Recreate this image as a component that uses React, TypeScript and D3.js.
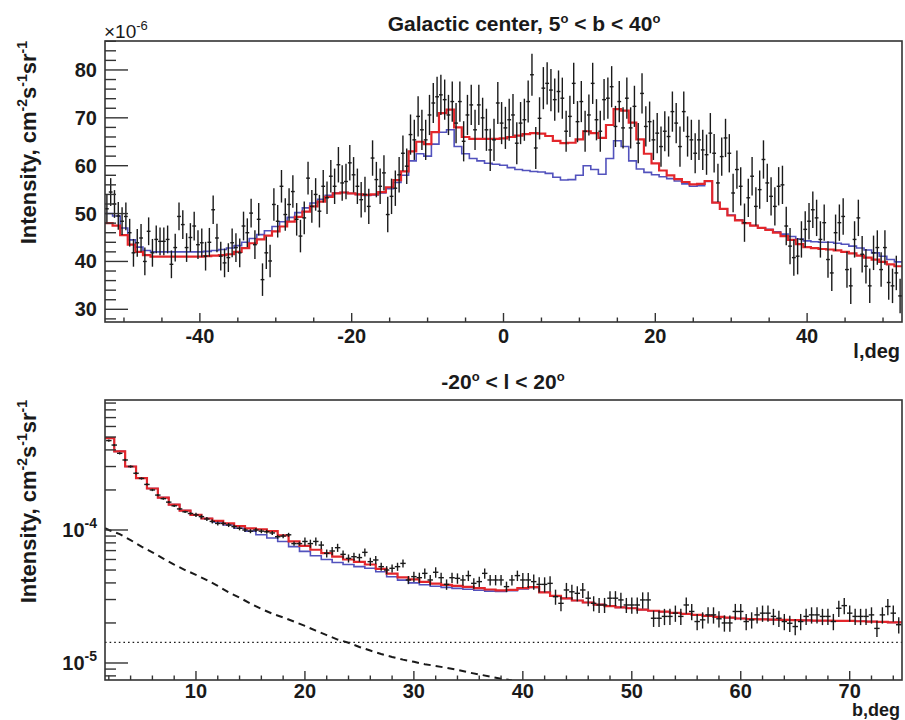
import React from 'react';
import * as d3 from 'd3';

// ---------- Top panel: Galactic center, 5° < b < 40° (values in 1e-6 units) ----------
// data points, 0.5-degree bins, centres -52.25 ... 52.25
const topData = [
  51, 54.5, 52, 49.5,
  48.4, 49.4, 46, 41.8, 43.9, 44.9, 40, 46.3, 41.8, 44.6,
  44.2, 44.2, 44.6, 39.4, 42.9, 49.4, 47.7, 42.9, 45, 47.4,
  43.5, 43.9, 41.1, 44, 50.8, 44.9, 41.1, 39.7, 40.8, 43.9,
  42.9, 41.8, 47.4, 46, 50.1, 43.5, 48.8, 36.2, 41.8, 40.1,
  51.9, 48.4, 55.7, 49.8, 51.9, 54.6, 48.8, 45.3, 49.1, 57.4,
  51.5, 54, 50.5, 55.7, 53.3, 57.8, 55.7, 60.2, 56.4, 56.7,
  60.6, 58.1, 55.7, 52.9, 54, 51.5, 61.6, 57.1, 55.7, 58.5,
  49.8, 53.6, 55.3, 58.1, 62.6, 59.9, 66.5, 65.4, 70.3, 67.5,
  65.4, 70.6, 73.1, 74.4, 74.8, 73.8, 70.6, 73.4, 68.9, 73.4,
  65.1, 70.6, 72.7, 67.5, 72.7, 70, 67.5, 63.3, 65.4, 73.1,
  68.9,
  67.9, 69.6, 70.6, 64.7, 68.9, 69.6, 73.4, 79, 63.7, 69.9,
  76.2, 77.2, 75.8, 73.8, 75.5, 74.1, 67.2, 70.3, 77.2, 69.2,
  73.4, 67.2, 70.6, 77.2, 69.6, 67.2, 73.8, 74.1, 76.5, 68.2,
  73.4, 67.9, 74.1, 67.9, 72.4, 64.7, 75.1, 68.2, 69.2, 65.4,
  66.8, 64, 67.2, 66.1, 71.3, 68.9, 64, 71.3, 66.1, 65.4,
  62.6, 65.4, 63.3, 62.3, 66.8, 62.6, 56.4, 61.9, 65.8, 62.6,
  54.3, 59.2, 55.7, 48.1, 53.3, 57.8, 51.5, 55, 61.3, 56.4,
  53.6, 51.5, 55.7, 56, 47.4, 43.2, 40.8, 41.1, 44.6, 46.7,
  48.4, 50.8, 49.1, 44.6, 48.1, 40.4, 37.6, 46, 48.1, 49.4,
  38.3, 34.9, 44.6, 49.1, 41.5, 39, 34.9, 41.8, 42.9, 38.3,
  42.9, 35.6, 34.9, 37.6, 32.8,
];
// error half-widths per 10-degree block starting at -52.5
const topErr = [2.9, 3.0, 3.4, 3.7, 4.2, 4.4, 4.3, 4.2, 4.0, 3.8, 3.6];
// model histograms, 1-degree bins, centres -52 ... 52
const topRed = [
  48, 47.5, 45.5, 43.5, 42, 41.3, 41, 41, 41, 41,
  41, 41, 41, 41.1, 41.2, 41.3, 41.5, 42, 42.8, 43.8,
  44.6, 45.4, 46.3, 47.3, 48.3, 49.3, 50.4, 51.5, 52.5, 53.5,
  54.2, 54.4, 54.2, 54, 53.9, 54, 54.5, 55.5, 57, 58.8,
  63, 65, 64.5, 67, 71, 71.7, 68, 66, 65.6, 65.6,
  65.6, 65.6, 65.7, 66, 66.3, 66.6, 66.8, 66.7, 66.2, 65.2,
  64.7, 64.8, 65.5, 67.2, 66.8, 65.8, 68.5, 71.8, 71.5, 69,
  65.5, 62.5, 60.5, 59, 58, 57.2, 56.6, 56.1, 56.2, 56.8,
  52.3, 51, 49.6, 48.6, 48, 47.5, 47, 46.6, 46, 45.3,
  44.5, 43.6, 43, 42.8, 42.6, 42.5, 42.3, 42, 41.7, 41.2,
  40.8, 40.4, 39.9, 39.4, 39,
];
const topBlue = [
  50, 49.5, 47, 44.5, 43, 42.3, 42, 42, 42, 42,
  42, 42, 42, 42.1, 42.3, 42.5, 42.8, 43.3, 44, 44.8,
  45.6, 46.4, 47.3, 48.3, 49.2, 50.2, 51.2, 52.2, 53, 53.8,
  54.3, 54.4, 54.2, 54, 53.8, 53.9, 54.3, 55.2, 56.5, 58,
  61, 62.5, 62, 64.5, 67, 67.5, 64, 62.5, 61.5, 61,
  60.5, 60.3, 60.1, 59.6, 59.2, 59, 58.8, 58.7, 58.4, 57.6,
  57, 57.1, 58, 60, 59.2, 58.2, 61.5, 65.2, 64, 61,
  59.3, 58.6, 58.1, 57.7, 57.3, 56.8, 56.2, 55.7, 55.8, 56.7,
  52.3, 51, 49.7, 48.7, 48, 47.5, 47, 46.7, 46.2, 45.7,
  45.2, 44.7, 44.3, 44.1, 44, 44, 43.8, 43.6, 43.2, 42.8,
  42.4, 41.8, 41.1, 40.4, 39.9,
];
const topYTicks = [30, 40, 50, 60, 70, 80];
const topXTicks = [-40, -20, 0, 20, 40];

// ---------- Bottom panel: -20° < l < 20° (values in 1e-5 units) ----------
// data points, 0.5-degree bins, centres 2.0 ... 74.5
const botData = [
  47, 43.5, 37.7, 33.6, 30, 26.7, 24.4, 22, 20, 18.3,
  17.2, 16.2, 15.2, 14.4, 13.7, 13.3, 13.0, 12.6, 12.1, 11.6,
  11.2, 11.2, 10.9, 10.6, 10.3, 10.0, 9.8, 10.0, 9.8, 9.7,
  9.5, 8.9, 9.0, 9.2, 7.9, 7.9, 8.2, 7.9, 8.2, 7.7,
  6.68, 6.95, 7.36, 6.56, 6.12, 6.3, 6.2, 6.79, 5.78, 5.95,
  5.3, 5.0, 5.15, 5.3, 5.61, 4.21, 4.46, 4.38, 4.72, 4.21,
  4.81, 4.38, 3.9, 4.38, 4.33, 4.21, 4.54, 3.97, 4.09, 4.72,
  4.21, 4.21,
  4.21, 3.75, 4.21, 4.54, 4.21, 4.21, 4.09, 3.9, 3.9, 3.97,
  3.15, 2.81, 3.54, 3.43, 3.34, 3.54, 3.07, 2.81, 2.73, 2.73,
  3.07, 3.07, 2.98, 2.73, 2.73, 2.73, 2.98, 2.98, 2.17, 2.17,
  2.24, 2.24, 2.37, 2.24, 2.73, 2.44, 2.05, 2.11, 2.30, 2.30,
  2.15, 2.0, 2.0, 2.44, 2.44, 2.05, 2.11, 2.30, 2.37, 2.37,
  2.24, 2.17, 2.05, 1.99, 1.88, 2.05, 2.24, 2.30, 2.30, 2.24,
  2.24, 2.05, 2.58, 2.70, 2.37, 2.24, 2.24, 2.24, 2.30, 1.82,
  2.30, 2.66, 2.37, 1.94,
];
// relative error per 10-degree block starting at b = 0
const botErrFrac = [0.02, 0.035, 0.07, 0.09, 0.13, 0.14, 0.14, 0.14];
// model histograms, 1-degree bins, centres 2 ... 75
const botRed = [
  49, 39, 30, 24.5, 20.5, 17.5, 15.5, 14, 13, 12.2,
  11.7, 11.2, 10.7, 10.3, 10.1, 9.8, 9.1, 8.2, 7.6, 7.1,
  6.7, 6.3, 6.0, 5.75, 5.5, 5.1, 4.7, 4.4, 4.25, 4.07,
  3.95, 3.87, 3.8, 3.74, 3.65, 3.57, 3.52, 3.55, 3.65, 3.72,
  3.4, 3.2, 3.06, 2.95, 2.85, 2.75, 2.68, 2.62, 2.58, 2.52,
  2.47, 2.43, 2.38, 2.34, 2.30, 2.26, 2.22, 2.19, 2.16, 2.14,
  2.13, 2.12, 2.11, 2.10, 2.09, 2.08, 2.08, 2.07, 2.07, 2.06,
  2.05, 2.04, 2.02, 2.02,
];
const botBlue = [
  49, 39, 30, 24.5, 20.5, 17.5, 15.5, 14, 13, 12.2,
  11.5, 10.9, 10.3, 9.8, 9.2, 8.7, 8.2, 7.5, 6.9, 6.4,
  6.0, 5.7, 5.5, 5.3, 5.15, 4.85, 4.45, 4.2, 4.0, 3.87,
  3.78, 3.7, 3.64, 3.58, 3.52, 3.47, 3.45, 3.5, 3.6, 3.7,
  3.4, 3.2, 3.06, 2.95, 2.85, 2.75, 2.68, 2.62, 2.58, 2.52,
  2.47, 2.43, 2.38, 2.34, 2.30, 2.26, 2.22, 2.19, 2.16, 2.14,
  2.13, 2.12, 2.11, 2.10, 2.09, 2.08, 2.08, 2.07, 2.07, 2.06,
  2.05, 2.04, 2.02, 2.02,
];
const dashB = [1.65, 2, 3, 4, 5, 6, 7, 8, 9, 10, 11, 12, 13, 14, 15, 16, 17, 18, 19, 20,
  21, 22, 23, 24, 25, 26, 27, 28, 29, 30, 31, 32, 33, 34, 35, 36, 37, 38, 39];
const dashVal = [10.3, 10.0, 9.3, 8.4, 7.5, 6.8, 6.1, 5.5, 5.0, 4.6, 4.2, 3.8, 3.4, 3.1, 2.8,
  2.55, 2.35, 2.2, 2.05, 1.9, 1.75, 1.62, 1.5, 1.42, 1.32, 1.24, 1.17, 1.11, 1.06, 1.02,
  0.98, 0.95, 0.92, 0.89, 0.85, 0.82, 0.79, 0.76, 0.74];
const dottedVal = 1.43;
const botXTicks = [10, 20, 30, 40, 50, 60, 70];
const botYDecades = [-5, -4];

const FONT = 'Liberation Sans, Arial, Helvetica, sans-serif';
const RED = '#e3262b';
const BLUE = '#5252bd';
const INK = '#1a1a1a';

function stepPath(centers: number[], vals: number[], w: number, x: any, y: any) {
  const pts: [number, number][] = [];
  centers.forEach((c, i) => {
    pts.push([x(c - w / 2), y(vals[i])]);
    pts.push([x(c + w / 2), y(vals[i])]);
  });
  return d3.line()(pts) || '';
}

export default function App() {
  const W = 905, H = 720;
  const L = 105, R = 902;
  const tT = 41, tB = 322;
  const bT = 400, bB = 680;

  const xT = d3.scaleLinear().domain([-52.5, 52.5]).range([L, R]);
  const yT = d3.scaleLinear().domain([27.35, 86.05]).range([tB, tT]);
  const xB = d3.scaleLinear().domain([1.65, 74.8]).range([L, R]);
  const yB = d3.scaleLog().domain([7.45e-6, 9.49e-4]).range([bB, bT]);

  const topCentersModel = topRed.map((_, i) => -52 + i);
  const topCentersData = topData.map((_, i) => -52.25 + 0.5 * i);
  const botCentersModel = botRed.map((_, i) => 2 + i);
  const botCentersData = botData.map((_, i) => 2 + 0.5 * i);

  // ticks
  const topYMinor = d3.range(28, 87, 2).filter((v) => v % 10 !== 0);
  const topXMinor = d3.range(-50, 53, 5).filter((v) => v % 20 !== 0);
  const botXMinor = d3.range(2, 75, 2).filter((v) => v % 10 !== 0);
  const botYMinor: number[] = [];
  [-6, -5, -4, -3].forEach((k) => {
    for (let m = 2; m <= 9; m++) {
      const v = m * Math.pow(10, k);
      if (v >= 7.45e-6 && v <= 9.49e-4) botYMinor.push(v);
    }
  });

  const tickStroke = { stroke: '#333', strokeWidth: 1.4 };

  return (
    <svg width={W} height={H} style={{ position: 'absolute', left: 0, top: 0, background: '#fff' }}
      fontFamily={FONT}>
      <defs>
        <clipPath id="clipTop"><rect x={L} y={tT} width={R - L} height={tB - tT} /></clipPath>
        <clipPath id="clipBot"><rect x={L} y={bT} width={R - L} height={bB - bT} /></clipPath>
      </defs>
      <rect x={0} y={0} width={W} height={H} fill="#fff" />

      {/* ---------------- TOP PANEL ---------------- */}
      <g clipPath="url(#clipTop)">
        <path d={stepPath(topCentersModel, topBlue, 1, xT, yT)} fill="none" stroke={BLUE} strokeWidth={1.6} />
        <path d={stepPath(topCentersModel, topRed, 1, xT, yT)} fill="none" stroke={RED} strokeWidth={2.2} />
        {topData.map((v, i) => {
          const c = topCentersData[i];
          const e = topErr[Math.min(topErr.length - 1, Math.floor((c + 52.5) / 10))];
          return (
            <g key={i} stroke={INK} strokeWidth={1.4}>
              <line x1={xT(c)} x2={xT(c)} y1={yT(v - e)} y2={yT(v + e)} />
              <line x1={xT(c - 0.25)} x2={xT(c + 0.25)} y1={yT(v)} y2={yT(v)} />
            </g>
          );
        })}
      </g>
      {/* axes ticks */}
      {topYTicks.map((v) => (
        <line key={'tyM' + v} x1={L} x2={L + 23} y1={yT(v)} y2={yT(v)} {...tickStroke} />
      ))}
      {topYMinor.map((v) => (
        <line key={'tym' + v} x1={L} x2={L + 11} y1={yT(v)} y2={yT(v)} {...tickStroke} />
      ))}
      {topXTicks.map((v) => (
        <line key={'txM' + v} x1={xT(v)} x2={xT(v)} y1={tB} y2={tB - 9} {...tickStroke} />
      ))}
      {topXMinor.map((v) => (
        <line key={'txm' + v} x1={xT(v)} x2={xT(v)} y1={tB} y2={tB - 4.5} {...tickStroke} />
      ))}
      <rect x={L} y={tT} width={R - L} height={tB - tT} fill="none" stroke="#333" strokeWidth={1.6} />
      {topYTicks.map((v) => (
        <text key={'tyl' + v} x={97} y={yT(v) + 7} textAnchor="end" fontSize={20} fontWeight="bold" fill={INK}>{v}</text>
      ))}
      {topXTicks.map((v) => (
        <text key={'txl' + v} x={xT(v)} y={343} textAnchor="middle" fontSize={20} fontWeight="bold" fill={INK}>{v}</text>
      ))}
      <text x={900} y={358} textAnchor="end" fontSize={20} fontWeight="bold" fill={INK}>l,deg</text>
      <text x={104} y={38} fontSize={19} fill={INK}>×10<tspan dy={-8} fontSize={13}>-6</tspan></text>
      <text x={524} y={31} textAnchor="middle" fontSize={21} fontWeight="bold" fill={INK}>
        Galactic center, 5<tspan dy={-8} fontSize={13}>o</tspan><tspan dy={8}>{' < b < 40'}</tspan><tspan dy={-8} fontSize={13}>o</tspan>
      </text>
      <text transform={`translate(36,${tT}) rotate(-90)`} textAnchor="end" fontSize={22} fontWeight="bold" fill={INK}>
        Intensity, cm<tspan dy={-9} fontSize={14}>-2</tspan><tspan dy={9}>s</tspan><tspan dy={-9} fontSize={14}>-1</tspan><tspan dy={9}>sr</tspan><tspan dy={-9} fontSize={14}>-1</tspan>
      </text>

      {/* ---------------- BOTTOM PANEL ---------------- */}
      <g clipPath="url(#clipBot)">
        <line x1={L} x2={R} y1={yB(dottedVal * 1e-5)} y2={yB(dottedVal * 1e-5)} stroke={INK} strokeWidth={1.4} strokeDasharray="1.6,3" />
        <path d={d3.line()(dashB.map((b, i) => [xB(b), yB(dashVal[i] * 1e-5)] as [number, number])) || ''}
          fill="none" stroke={INK} strokeWidth={2} strokeDasharray="7,5" />
        <path d={stepPath(botCentersModel, botBlue.map((v) => v * 1e-5), 1, xB, yB)} fill="none" stroke={BLUE} strokeWidth={1.6} />
        <path d={stepPath(botCentersModel, botRed.map((v) => v * 1e-5), 1, xB, yB)} fill="none" stroke={RED} strokeWidth={2.2} />
        {botData.map((v0, i) => {
          const c = botCentersData[i];
          const v = v0 * 1e-5;
          const f = botErrFrac[Math.min(botErrFrac.length - 1, Math.floor(c / 10))];
          return (
            <g key={i} stroke={INK} strokeWidth={1.4}>
              <line x1={xB(c)} x2={xB(c)} y1={yB(v * (1 - f))} y2={yB(v * (1 + f))} />
              <line x1={xB(c - 0.25)} x2={xB(c + 0.25)} y1={yB(v)} y2={yB(v)} />
            </g>
          );
        })}
      </g>
      {botYDecades.map((k) => (
        <line key={'byM' + k} x1={L} x2={L + 23} y1={yB(Math.pow(10, k))} y2={yB(Math.pow(10, k))} {...tickStroke} />
      ))}
      {botYMinor.map((v, i) => (
        <line key={'bym' + i} x1={L} x2={L + 11} y1={yB(v)} y2={yB(v)} {...tickStroke} />
      ))}
      {botXTicks.map((v) => (
        <line key={'bxM' + v} x1={xB(v)} x2={xB(v)} y1={bB} y2={bB - 9} {...tickStroke} />
      ))}
      {botXMinor.map((v) => (
        <line key={'bxm' + v} x1={xB(v)} x2={xB(v)} y1={bB} y2={bB - 4.5} {...tickStroke} />
      ))}
      <rect x={L} y={bT} width={R - L} height={bB - bT} fill="none" stroke="#333" strokeWidth={1.6} />
      {botYDecades.map((k) => (
        <text key={'byl' + k} x={97} y={yB(Math.pow(10, k)) + 7} textAnchor="end" fontSize={20} fontWeight="bold" fill={INK}>
          10<tspan dy={-9} fontSize={14}>{String(k)}</tspan>
        </text>
      ))}
      {botXTicks.map((v) => (
        <text key={'bxl' + v} x={xB(v)} y={698} textAnchor="middle" fontSize={20} fontWeight="bold" fill={INK}>{v}</text>
      ))}
      <text x={900} y={716} textAnchor="end" fontSize={18} fontWeight="bold" fill={INK}>b,deg</text>
      <text x={503} y={389} textAnchor="middle" fontSize={21} fontWeight="bold" fill={INK}>
        -20<tspan dy={-8} fontSize={13}>o</tspan><tspan dy={8}>{' < l < 20'}</tspan><tspan dy={-8} fontSize={13}>o</tspan>
      </text>
      <text transform={`translate(36,${bT}) rotate(-90)`} textAnchor="end" fontSize={22} fontWeight="bold" fill={INK}>
        Intensity, cm<tspan dy={-9} fontSize={14}>-2</tspan><tspan dy={9}>s</tspan><tspan dy={-9} fontSize={14}>-1</tspan><tspan dy={9}>sr</tspan><tspan dy={-9} fontSize={14}>-1</tspan>
      </text>
    </svg>
  );
}
